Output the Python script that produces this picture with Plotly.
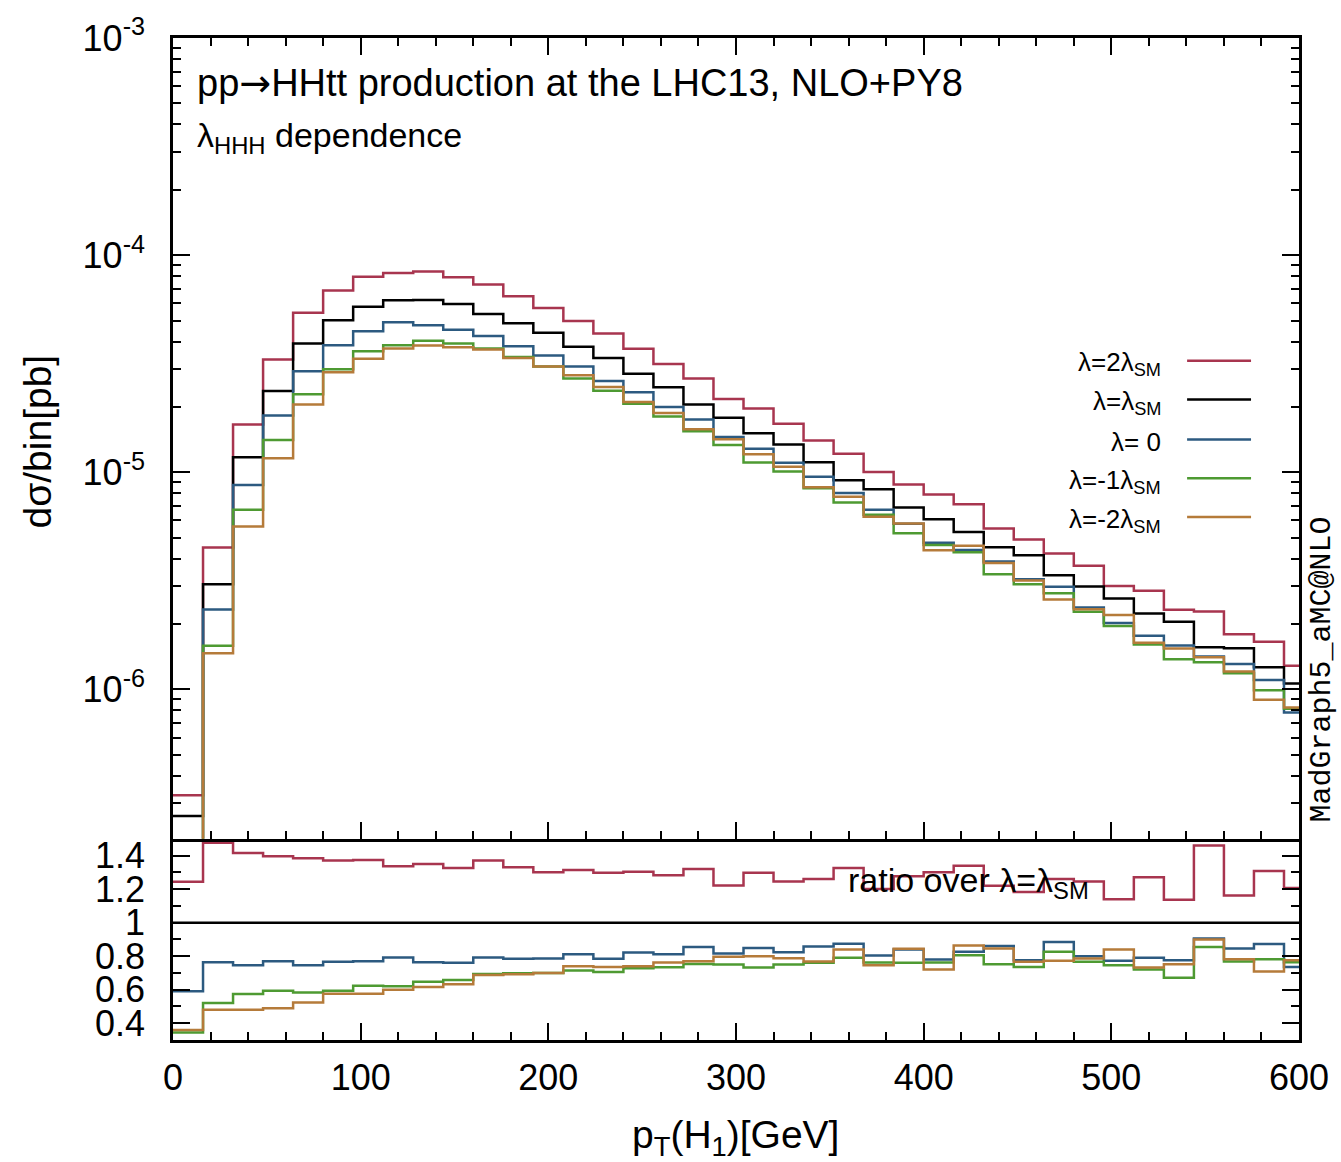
import plotly.graph_objects as go

# ---------------- data ----------------
bin_edges = list(range(0, 609, 16))  # pT(H1) bin edges [GeV], 38 bins of 16 GeV

# lambda = lambda_SM  d(sigma)/bin [pb]
sm_values = [2.615e-7, 3.054e-6, 1.172e-5, 2.370e-5, 3.918e-5, 5.018e-5, 5.79e-5, 6.20e-5,
             6.22e-5, 5.96e-5, 5.35e-5, 4.86e-5, 4.39e-5, 3.785e-5, 3.358e-5, 2.844e-5,
             2.462e-5, 2.050e-5, 1.782e-5, 1.514e-5, 1.344e-5, 1.111e-5, 9.19e-6, 8.36e-6,
             6.89e-6, 6.07e-6, 5.31e-6, 4.515e-6, 4.148e-6, 3.358e-6, 2.977e-6, 2.623e-6,
             2.239e-6, 2.051e-6, 1.563e-6, 1.546e-6, 1.266e-6, 1.065e-6]

# ratios over lambda = lambda_SM
ratio_2sm = [1.244, 1.476, 1.416, 1.396, 1.384, 1.370, 1.374, 1.336, 1.350, 1.326, 1.370, 1.330,
             1.300, 1.314, 1.298, 1.304, 1.282, 1.320, 1.222, 1.298, 1.246, 1.260, 1.326, 1.200,
             1.276, 1.300, 1.340, 1.220, 1.182, 1.260, 1.245, 1.140, 1.270, 1.136, 1.460, 1.162,
             1.308, 1.206]
ratio_0 = [0.590, 0.764, 0.746, 0.770, 0.746, 0.766, 0.770, 0.792, 0.764, 0.760, 0.792, 0.784,
           0.786, 0.812, 0.784, 0.822, 0.812, 0.854, 0.816, 0.848, 0.824, 0.858, 0.874, 0.804,
           0.840, 0.780, 0.826, 0.860, 0.776, 0.884, 0.800, 0.772, 0.790, 0.776, 0.906, 0.846,
           0.872, 0.736]
ratio_m1sm = [0.345, 0.520, 0.574, 0.594, 0.584, 0.594, 0.624, 0.620, 0.648, 0.658, 0.694, 0.698,
              0.700, 0.714, 0.706, 0.728, 0.734, 0.754, 0.750, 0.732, 0.750, 0.760, 0.790, 0.762,
              0.760, 0.762, 0.806, 0.752, 0.736, 0.826, 0.766, 0.746, 0.720, 0.672, 0.854, 0.768,
              0.782, 0.764]
ratio_m2sm = [0.360, 0.480, 0.480, 0.490, 0.524, 0.576, 0.576, 0.600, 0.616, 0.632, 0.688, 0.692,
              0.700, 0.740, 0.736, 0.740, 0.762, 0.770, 0.796, 0.800, 0.788, 0.768, 0.840, 0.746,
              0.844, 0.720, 0.864, 0.846, 0.766, 0.772, 0.786, 0.840, 0.732, 0.752, 0.900, 0.782,
              0.708, 0.776]

series_names = ["λ=2λ<sub>SM</sub>", "λ=λ<sub>SM</sub>", "λ= 0", "λ=-1λ<sub>SM</sub>", "λ=-2λ<sub>SM</sub>"]
colors = ["#A8354F", "#000000", "#2C5A80", "#4E9A32", "#B57B3A"]

y_ticks_main = [1e-3, 1e-4, 1e-5, 1e-6]
y_ticktext_main = ["10<sup>-3</sup>", "10<sup>-4</sup>", "10<sup>-5</sup>", "10<sup>-6</sup>"]
y_ticks_ratio = [0.4, 0.6, 0.8, 1.0, 1.2, 1.4]
y_ticktext_ratio = ["0.4", "0.6", "0.8", "1", "1.2", "1.4"]
x_ticks = [0, 100, 200, 300, 400, 500, 600]

# ---------------- figure ----------------
FONT = "Liberation Sans, Arial, Helvetica, sans-serif"
W, H = 1341, 1162
ML, MR, MT, MB = 173, 41, 34, 122
PW, PH = W - ML - MR, H - MT - MB
split = (1040 - 838) / PH  # ratio panel fraction

def step(vals):
    return vals + [vals[-1]]

ratios = [ratio_2sm, None, ratio_0, ratio_m1sm, ratio_m2sm]
main_series = []
for r in ratios:
    if r is None:
        main_series.append(sm_values)
    else:
        main_series.append([a * b for a, b in zip(r, sm_values)])

fig = go.Figure()
for name, col, vals in zip(series_names, colors, main_series):
    fig.add_trace(go.Scatter(x=bin_edges, y=step(vals), mode="lines", line=dict(color=col, width=2.5, shape="hv"),
                             xaxis="x2", yaxis="y2", name=name, showlegend=False))
for name, col, r in zip(series_names, colors, ratios):
    if r is None:
        continue
    fig.add_trace(go.Scatter(x=bin_edges, y=step(r), mode="lines", line=dict(color=col, width=2.5, shape="hv"),
                             xaxis="x", yaxis="y", name=name, showlegend=False))

axis_common = dict(showline=True, linecolor="black", linewidth=2.5, ticks="inside", tickcolor="black",
                   tickwidth=2, showgrid=False, zeroline=False)
tickfont = dict(family=FONT, size=36, color="black")
minor_common = dict(ticks="inside", ticklen=8, tickwidth=2, tickcolor="black", showgrid=False)

fig.update_layout(
    width=W, height=H, margin=dict(l=ML, r=MR, t=MT, b=MB),
    plot_bgcolor="white", paper_bgcolor="white", showlegend=False,
    xaxis=dict(**axis_common, domain=[0, 1], range=[0, 600], anchor="y", mirror=False,
               tickvals=x_ticks, ticklen=17, tickfont=tickfont, ticklabelstandoff=4,
               minor=dict(**minor_common, dtick=20)),
    xaxis2=dict(**axis_common, domain=[0, 1], range=[0, 600], anchor="y2", matches="x", mirror="allticks",
                tickvals=x_ticks, ticklen=17, showticklabels=False,
                minor=dict(**minor_common, dtick=20)),
    yaxis=dict(**axis_common, domain=[0, split], range=[0.3, 1.5], anchor="x", mirror="allticks",
               tickvals=y_ticks_ratio, ticktext=y_ticktext_ratio, ticklen=17, tickfont=tickfont,
               ticklabelstandoff=18, minor=dict(**minor_common, dtick=0.1)),
    yaxis2=dict(**axis_common, type="log", domain=[split, 1], range=[-6.688, -3], anchor="x2", mirror="allticks",
                tickvals=y_ticks_main, ticktext=y_ticktext_main, ticklen=17, tickfont=tickfont,
                ticklabelstandoff=18, minor=dict(**minor_common, dtick="D1")),
)

# ratio = 1 reference line
fig.add_shape(type="line", xref="x domain", yref="y", x0=0, x1=1, y0=1, y1=1,
              line=dict(color="black", width=2.5))

def px_x(px):
    return (px - ML) / PW

def px_y(py):
    return (MT + PH - py) / PH

ARROW = '<span style="font-family:DejaVu Sans">→</span>'
annots = [
    dict(text="pp" + ARROW + "HHtt production at the LHC13, NLO+PY8", x=px_x(195), y=px_y(79), xanchor="left",
         yanchor="middle", font=dict(family=FONT, size=38, color="black")),
    dict(text="λ<sub>HHH</sub> dependence", x=px_x(195), y=px_y(134), xanchor="left",
         yanchor="middle", font=dict(family=FONT, size=34, color="black")),
    dict(text="ratio over λ=λ<sub>SM</sub>", x=px_x(847), y=px_y(882), xanchor="left",
         yanchor="middle", font=dict(family=FONT, size=34, color="black")),
    dict(text="dσ/bin[pb]", x=px_x(37), y=px_y(439), xanchor="center", yanchor="middle", textangle=-90,
         font=dict(family=FONT, size=39, color="black")),
    dict(text="p<sub>T</sub>(H<sub>1</sub>)[GeV]", x=px_x(736), y=px_y(1138), xanchor="center",
         yanchor="middle", font=dict(family=FONT, size=39, color="black")),
    dict(text="MadGraph5_aMC@NLO", x=px_x(1324), y=px_y(668), xanchor="center", yanchor="middle",
         textangle=-90, font=dict(family="Liberation Mono, Courier New, monospace", size=30, color="black")),
]
legend_rows = [358, 397, 437, 476, 515]
for name, col, ry in zip(series_names, colors, legend_rows):
    annots.append(dict(text=name, x=px_x(1164), y=px_y(ry + 3), xanchor="right", yanchor="middle",
                       font=dict(family=FONT, size=26, color="black")))
    fig.add_shape(type="line", xref="paper", yref="paper", x0=px_x(1188), x1=px_x(1252),
                  y0=px_y(ry), y1=px_y(ry), line=dict(color=col, width=2.5))
for a in annots:
    a.update(xref="paper", yref="paper", showarrow=False)
fig.update_layout(annotations=annots)

fig.write_html("out.html")
